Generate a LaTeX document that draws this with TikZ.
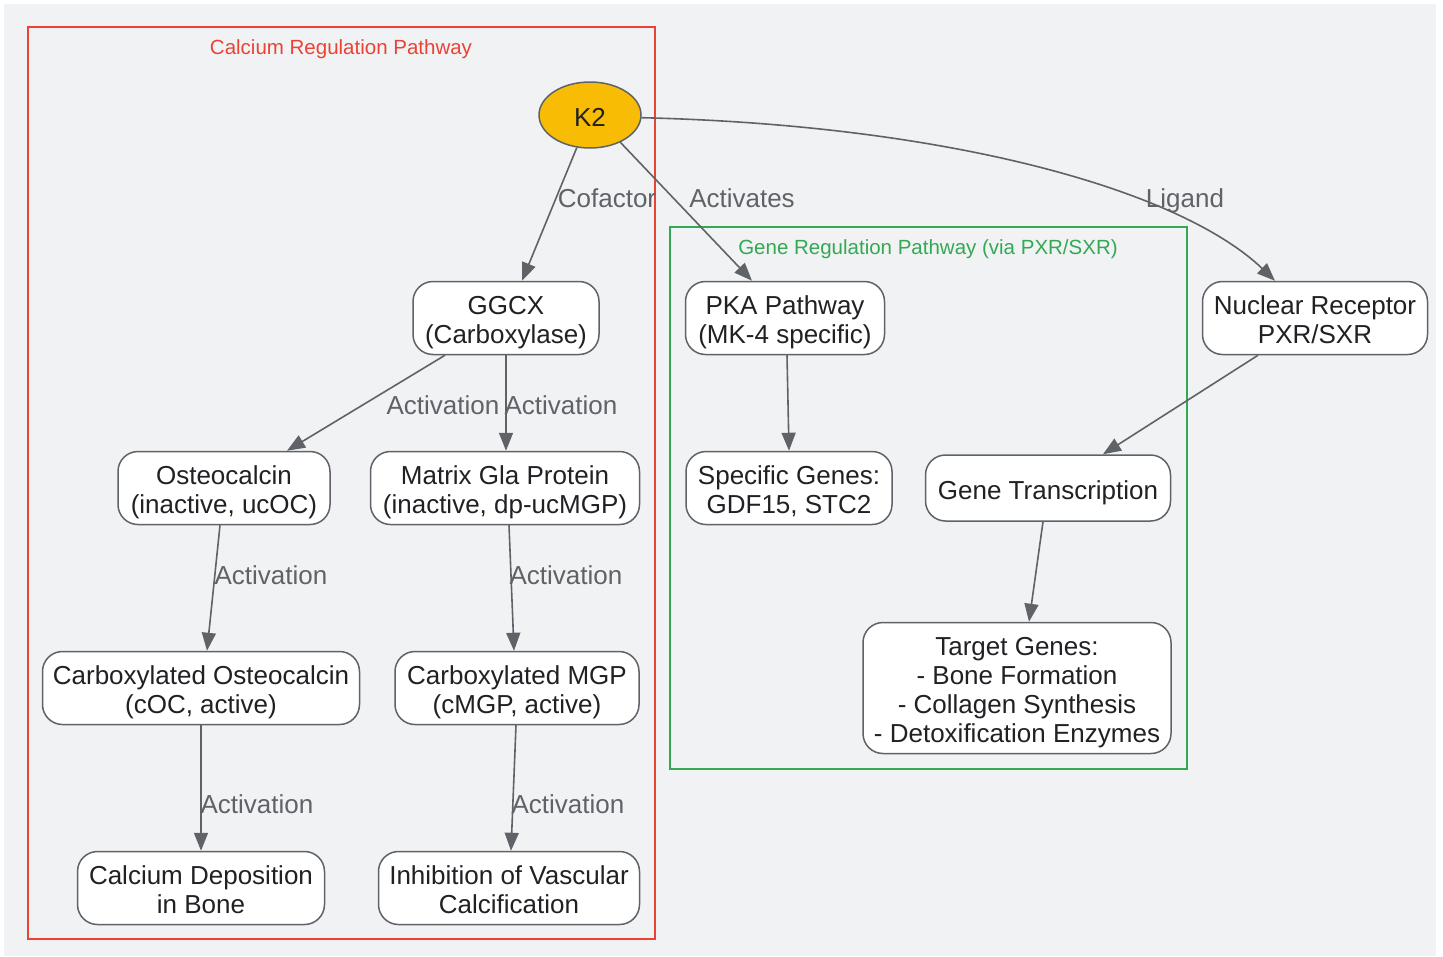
\documentclass[tikz,border=0pt]{standalone}
\usepackage{fontspec}
\setmainfont{Liberation Sans}
\usetikzlibrary{arrows.meta,calc,shapes.geometric}
\definecolor{bggray}{HTML}{F1F2F4}
\definecolor{edgegray}{HTML}{5F6368}
\definecolor{txtdark}{HTML}{202124}
\definecolor{clred}{HTML}{EA4335}
\definecolor{clgreen}{HTML}{34A853}
\definecolor{kyellow}{HTML}{F9BC05}
\newcommand\tstrut{\rule{0pt}{29pt}}
\newcommand\bstrut{\rule[-7pt]{0pt}{7pt}}
\tikzset{
  box/.style={draw=edgegray, line width=1.5pt, fill=white, rounded corners=20pt,
    align=center, inner sep=0pt, minimum height=73pt, text=txtdark,
    font=\fontsize{26}{29}\selectfont},
  conn/.style={draw=edgegray, line width=1.6pt, -{Triangle[length=18pt,width=14pt]}},
  elabel/.style={text=edgegray, font=\fontsize{26}{29}\selectfont, inner sep=0pt},
  cluster/.style={line width=2pt},
  cltitle/.style={font=\fontsize{20.5}{24}\selectfont, inner sep=0pt}
}
\begin{document}
\begin{tikzpicture}[x=1pt,y=-1pt]
\useasboundingbox (0,0) rectangle (1443,956);
\fill[bggray] (4,4) rectangle (1436,956);
% clusters
\draw[cluster, clred] (28,27) rectangle (655,939);
\node[cltitle, text=clred] (t1) at (341,49) {Calcium Regulation Pathway};
\draw[cluster, clgreen] (670,227) rectangle (1187,769);
\node[cltitle, text=clgreen] (t2) at (928,249) {Gene Regulation Pathway (via PXR/SXR)};
% nodes
\node[ellipse, draw=edgegray, line width=1.5pt, fill=kyellow, minimum width=102pt, minimum height=66pt, inner sep=0pt, text=txtdark, font=\fontsize{26}{29}\selectfont] (k2) at (590,115) {\tstrut K2\bstrut};
\node[box, minimum width=186pt] (ggcx) at (506,318) {\tstrut GGCX\\(Carboxylase)\bstrut};
\node[box, minimum width=212pt] (oc) at (224,488) {\tstrut Osteocalcin\\(inactive, ucOC)\bstrut};
\node[box, minimum width=269pt] (mgp) at (505,488) {\tstrut Matrix Gla Protein\\(inactive, dp-ucMGP)\bstrut};
\node[box, minimum width=317pt] (coc) at (201,688) {\tstrut Carboxylated Osteocalcin\\(cOC, active)\bstrut};
\node[box, minimum width=244pt] (cmgp) at (517,688) {\tstrut Carboxylated MGP\\(cMGP, active)\bstrut};
\node[box, minimum width=247pt] (calc) at (201,888) {\tstrut Calcium Deposition\\in Bone\bstrut};
\node[box, minimum width=261pt] (inhib) at (509,888) {\tstrut Inhibition of Vascular\\Calcification\bstrut};
\node[box, minimum width=199pt] (pka) at (785,318) {\tstrut PKA Pathway\\(MK-4 specific)\bstrut};
\node[box, minimum width=206pt] (spec) at (789,488) {\tstrut Specific Genes:\\GDF15, STC2\bstrut};
\node[box, minimum width=245pt, minimum height=66pt] (gt) at (1048,488) {\tstrut Gene Transcription\bstrut};
\node[box, minimum width=308pt, minimum height=131pt] (target) at (1017,688) {\tstrut Target Genes:\\- Bone Formation\\- Collagen Synthesis\\- Detoxification Enzymes\bstrut};
\node[box, minimum width=225pt] (nuc) at (1315,318) {\tstrut Nuclear Receptor\\PXR/SXR\bstrut};
% edges
\draw[conn] (k2.248) -- ($(ggcx.north)+(16,0)$);
\draw[conn] (k2.-42) -- ($(pka.north)+(-33,0)$);
\draw[conn] (k2.-3) .. controls (950,125) and (1180,190) .. ($(nuc.north)+(-40,0)$);
\draw[conn] ($(ggcx.south)+(-61,0)$) -- ($(oc.north)+(63,0)$);
\draw[conn] (ggcx.south) -- (ggcx.south |- mgp.north);
\draw[conn] ($(oc.south)+(-4,0)$) -- ($(coc.north)+(6,0)$);
\draw[conn] ($(mgp.south)+(4,0)$) -- ($(cmgp.north)+(-3,0)$);
\draw[conn] (coc.south) -- (calc.north);
\draw[conn] ($(cmgp.south)+(-1,0)$) -- ($(inhib.north)+(2,0)$);
\draw[conn] ($(pka.south)+(2,0)$) -- (spec.north);
\draw[conn] ($(nuc.south)+(-57,0)$) -- ($(gt.north)+(55,0)$);
\draw[conn] ($(gt.south)+(-5,0)$) -- ($(target.north)+(12,0)$);
% edge labels
\node[elabel] (l1) at (607,198) {Cofactor};
\node[elabel] (l2) at (742,198) {Activates};
\node[elabel] (l3) at (1185,201) {Ligand};
\node[elabel] (l4) at (443,405) {Activation};
\node[elabel] (l5) at (561,405) {Activation};
\node[elabel] (l6) at (271,575) {Activation};
\node[elabel] (l7) at (566,575) {Activation};
\node[elabel] (l8) at (257,804) {Activation};
\node[elabel] (l9) at (568,804) {Activation};
\end{tikzpicture}
\end{document}
